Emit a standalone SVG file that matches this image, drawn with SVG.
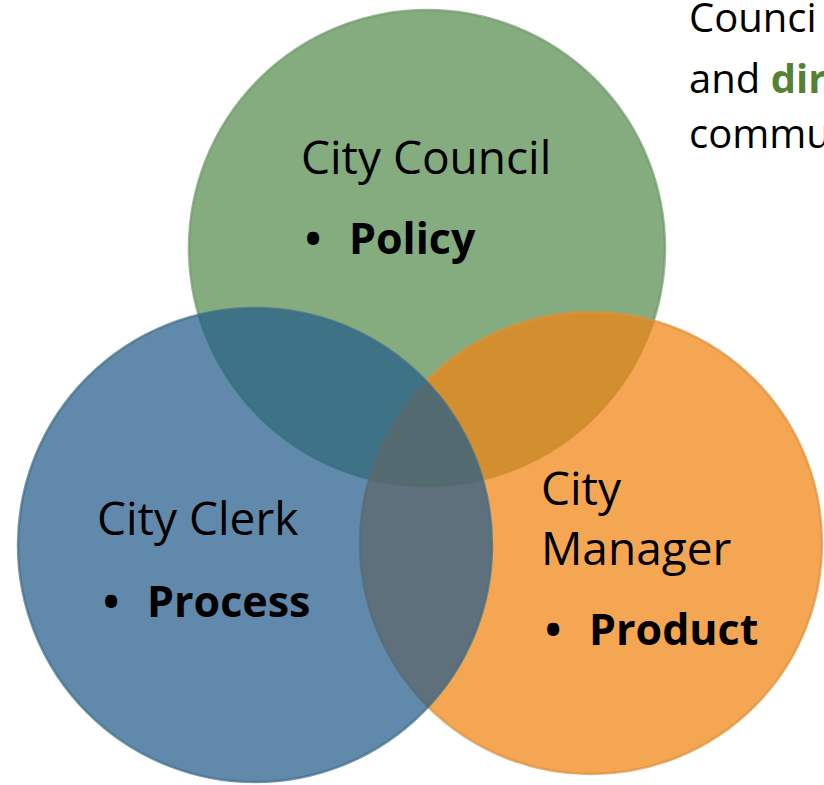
<svg xmlns="http://www.w3.org/2000/svg" width="824" height="785" viewBox="0 0 824 785">
<style>
.lbl{font-family:"Open Sans","Liberation Sans",sans-serif;font-size:46px;fill:#000}
.b{font-weight:bold;font-size:43px}
.side{font-family:"Open Sans","Liberation Sans",sans-serif;font-size:40px;fill:#000}
.c{stroke-width:2.5;fill-opacity:0.72}
</style>
<rect width="824" height="785" fill="#fff"/>
<g id="council">
<circle class="c" cx="427" cy="248" r="238" fill="#548c4c" stroke="#6f9a69" stroke-opacity="0.7"/>
</g>
<g id="manager">
<circle class="c" cx="591" cy="543" r="231" fill="#f18310" stroke="#d8923f" stroke-opacity="0.7"/>
</g>
<g id="clerk">
<circle class="c" cx="255" cy="545" r="237" fill="#225b8a" stroke="#3f6f86" stroke-opacity="0.7"/>
</g>
<g id="connectors"/>
<g id="labels">
<text class="lbl" x="301" y="174">City Council</text>
<text class="lbl b" x="305" y="254">•</text>
<text class="lbl b" x="349" y="254">Policy</text>
<text class="lbl" x="97" y="535">City Clerk</text>
<text class="lbl b" x="103" y="617">•</text>
<text class="lbl b" x="147" y="617">Process</text>
<text class="lbl" x="541" y="505">City</text>
<text class="lbl" x="541" y="565">Manager</text>
<text class="lbl b" x="545" y="645">•</text>
<text class="lbl b" x="589" y="645">Product</text>
</g>
<g id="sidetext">
<text class="side" x="689" y="32">Counci</text>
<text class="side" x="689" y="93">and <tspan font-weight="bold" fill="#538135">dir</tspan></text>
<text class="side" x="689" y="148">commu</text>
</g>
</svg>
